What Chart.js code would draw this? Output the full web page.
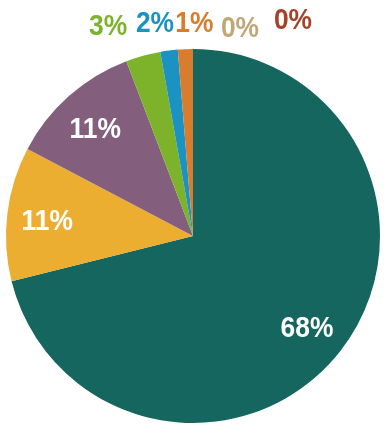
<!DOCTYPE html>
<html>
<head>
<meta charset="utf-8">
<script src="https://cdn.jsdelivr.net/npm/chart.js@4"></script>
<style>
  html, body { margin: 0; padding: 0; background: #ffffff; }
  #wrap { width: 384px; height: 428px; position: relative; }
</style>
</head>
<body>
<div id="wrap"><canvas id="c" width="384" height="428"></canvas></div>
<script>
const categories = ['A', 'B', 'C', 'D', 'E', 'F', 'G', 'H'];
const values = [71.1, 11.6, 11.5, 3.0, 1.5, 1.3, 0, 0];
const valueLabels = ['68%', '11%', '11%', '3%', '2%', '1%', '0%', '0%'];
const sliceColors = ['#15665E', '#EBAE30', '#835F7D', '#7DB32A', '#1A93C2', '#D87C2E', '#BFA877', '#A4432A'];
const labelColors = ['#FFFFFF', '#FFFFFF', '#FFFFFF', '#7DB32A', '#1A93C2', '#D87C2E', '#BFA877', '#A4432A'];
const labelInside = [true, true, true, false, false, false, false, false];
const outsideOffsets = [[0,0],[0,0],[0,0],[-35,-30],[-14,-28],[9,-26],[47,-21],[100,-29]];

const labelPlugin = {
  id: 'sliceLabels',
  afterDatasetsDraw(chart) {
    const ctx = chart.ctx;
    const meta = chart.getDatasetMeta(0);
    const sx = 0.88;
    meta.data.forEach((arc, i) => {
      const p = arc.getProps(['x', 'y', 'startAngle', 'endAngle', 'outerRadius'], true);
      const mid = (p.startAngle + p.endAngle) / 2;
      let x, y;
      if (labelInside[i]) {
        const r = p.outerRadius * 0.78;
        x = p.x + Math.cos(mid) * r - 1;
        y = p.y + Math.sin(mid) * r + 3;
      } else {
        const r = p.outerRadius;
        x = p.x + Math.cos(mid) * r + outsideOffsets[i][0];
        y = p.y + Math.sin(mid) * r + outsideOffsets[i][1] + 1;
      }
      ctx.save();
      ctx.translate(x, y);
      ctx.scale(sx, 1);
      ctx.textAlign = 'center';
      ctx.textBaseline = 'middle';
      ctx.font = 'bold 30px "Liberation Sans", Arial, sans-serif';
      ctx.fillStyle = labelColors[i];
      ctx.fillText(valueLabels[i], 0, 0);
      ctx.restore();
    });
  }
};

new Chart(document.getElementById('c'), {
  type: 'pie',
  data: {
    labels: categories,
    datasets: [{
      data: values,
      backgroundColor: sliceColors,
      borderWidth: 0
    }]
  },
  options: {
    responsive: false,
    animation: false,
    layout: { padding: { top: 49, bottom: 5, left: 6, right: 4 } },
    plugins: {
      legend: { display: false },
      tooltip: { enabled: false }
    }
  },
  plugins: [labelPlugin]
});
</script>
</body>
</html>
